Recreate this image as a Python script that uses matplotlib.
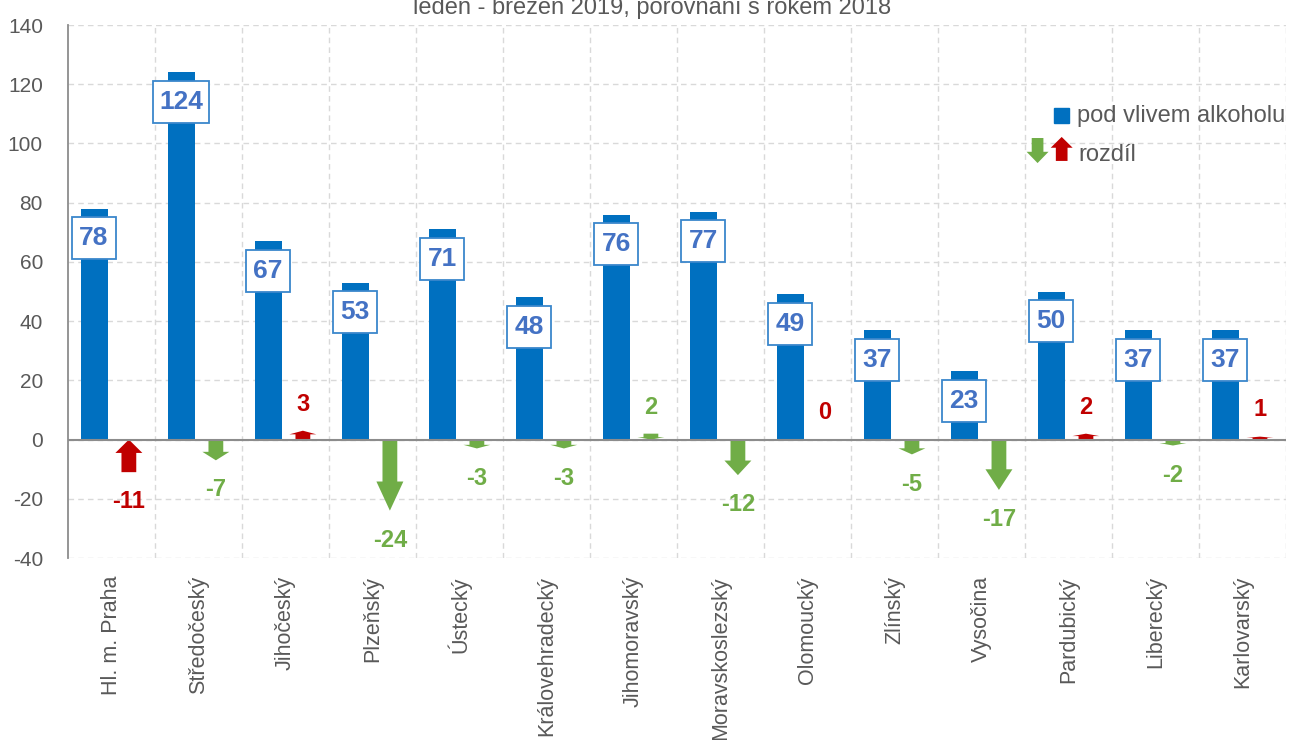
import matplotlib
matplotlib.use("Agg")
import matplotlib.pyplot as plt
from matplotlib.patches import Polygon, Rectangle

# data
kraje = ['Hl. m. Praha', 'Středočeský', 'Jihočeský', 'Plzeňský', 'Ústecký',
         'Královehradecký', 'Jihomoravský', 'Moravskoslezský', 'Olomoucký',
         'Zlínský', 'Vysočina', 'Pardubický', 'Liberecký', 'Karlovarský']
alkohol = [78, 124, 67, 53, 71, 48, 76, 77, 49, 37, 23, 50, 37, 37]
rozdil = [-11, -7, 3, -24, -3, -3, 2, -12, 0, -5, -17, 2, -2, 1]
smer = ['up', 'down', 'up', 'down', 'down', 'down', 'down', 'down', None,
        'down', 'down', 'up', 'down', 'up']

modra = '#0070C0'
zelena = '#70AD47'
cervena = '#C00000'
seda = '#595959'

plt.rcParams['font.family'] = ['Liberation Sans', 'DejaVu Sans']
plt.rcParams['axes.unicode_minus'] = False

fig = plt.figure(figsize=(12.92, 7.40), dpi=100)
ax = fig.add_axes([0.0526, 0.2459, 0.9428, 0.7203])

x = list(range(len(kraje)))
ax.bar([i - 0.2 for i in x], alkohol, width=0.31, color=modra, zorder=3)


def sipka(xc, y_from, y_to, color, hw=0.155, sw=0.085, frac=0.41):
    yb = y_to - frac * (y_to - y_from)
    pts = [(xc - sw, y_from), (xc - sw, yb), (xc - hw, yb), (xc, y_to),
           (xc + hw, yb), (xc + sw, yb), (xc + sw, y_from)]
    ax.add_patch(Polygon(pts, closed=True, color=color, lw=0, zorder=4))


for i, (v, d) in enumerate(zip(rozdil, smer)):
    barva = zelena if d == 'down' else cervena
    if v != 0 and d is not None:
        lo, hi = min(0, v), max(0, v)
        if d == 'up':
            sipka(i + 0.2, lo, hi, barva)
        else:
            sipka(i + 0.2, hi, lo, barva)
    ty = v - 10 if v < 0 else v + 9
    ax.text(i + 0.2, ty, str(v), ha='center', va='center', color=barva,
            fontsize=17, fontweight='bold', zorder=5)

# value boxes on the blue bars
for i, v in enumerate(alkohol):
    w = 0.2 + 0.15 * len(str(v))
    ax.add_patch(Rectangle((i - 0.2 - w / 2, v - 10 - 7.1), w, 14.2,
                           facecolor='white', edgecolor='#3A87CC', lw=1.3,
                           zorder=5))
    ax.text(i - 0.2, v - 10, str(v), ha='center', va='center',
            color='#4472C4', fontsize=19, fontweight='bold', zorder=6)

ax.set_xlim(-0.5, 13.5)
ax.set_ylim(-40, 140)
ax.set_yticks(range(-40, 141, 20))
ax.set_xticks(x)
ax.set_xticklabels(kraje, rotation=90, fontsize=15.5, color=seda)
ax.set_xticks([i + 0.5 for i in x], minor=True)
ax.tick_params(axis='both', which='both', length=0)
ax.tick_params(axis='y', labelsize=15, labelcolor=seda, pad=18)
ax.tick_params(axis='x', pad=13)
ax.grid(True, axis='y', color='#D9D9D9', linestyle=(0, (4, 3)), lw=1, zorder=0)
ax.grid(True, axis='x', which='minor', color='#D9D9D9', linestyle=(0, (4, 3)),
        lw=1, zorder=0)
ax.grid(False, axis='x', which='major')
ax.axhline(0, color='#8C8C8C', lw=1.5, zorder=4)
for s in ['top', 'right', 'bottom']:
    ax.spines[s].set_visible(False)
ax.spines['left'].set_color('#8C8C8C')
ax.spines['left'].set_linewidth(1.3)

# legend drawn by hand
ax.add_patch(Rectangle((0.8098, 0.816), 0.0123, 0.0281, color=modra,
                       transform=ax.transAxes, clip_on=False, zorder=6))
ax.text(0.828, 0.829, 'pod vlivem alkoholu', transform=ax.transAxes,
        fontsize=17, color=seda, va='center', ha='left')
for x0, top, bot, col, up in [(0.796, 0.788, 0.741, zelena, False),
                               (0.8158, 0.790, 0.745, cervena, True)]:
    hw, sw = 0.009, 0.0048
    yb = top - 0.45 * (top - bot) if up else bot + 0.45 * (top - bot)
    tip, tail = (top, bot) if up else (bot, top)
    pts = [(x0 - sw, tail), (x0 - sw, yb), (x0 - hw, yb), (x0, tip),
           (x0 + hw, yb), (x0 + sw, yb), (x0 + sw, tail)]
    ax.add_patch(Polygon(pts, closed=True, color=col, lw=0,
                         transform=ax.transAxes, clip_on=False, zorder=6))
ax.text(0.8295, 0.756, 'rozdíl', transform=ax.transAxes, fontsize=17,
        color=seda, va='center', ha='left')

fig.text(0.5046, 0.981, 'leden - březen 2019, porovnání s rokem 2018',
         ha='center', va='baseline', fontsize=17, color=seda)

fig.savefig('out.png', dpi=100)
